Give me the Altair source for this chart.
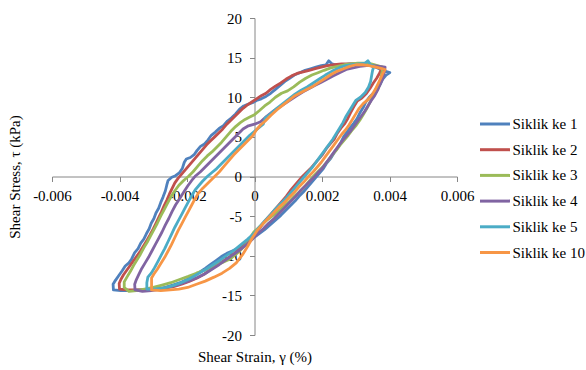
import altair as alt
import pandas as pd

# Series names and colours (Excel 2010 palette)
series_names = ["Siklik ke 1", "Siklik ke 2", "Siklik ke 3", "Siklik ke 4", "Siklik ke 5", "Siklik ke 10"]
series_colors = ["#4F81BD", "#C0504D", "#9BBB59", "#8064A2", "#4BACC6", "#F79646"]

# Each loop: (shear strain in 10^-3 %, shear stress in kPa)
ke1 = [(-4.18,-14.3),(-4.19,-13.6),(-4.12,-13.1),(-4.02,-12.5),(-3.92,-11.9),(-3.83,-11.3),(-3.72,-10.9),(-3.64,-10.4),
       (-3.55,-9.6),(-3.45,-9.1),(-3.37,-8.4),(-3.28,-7.9),(-3.20,-7.2),(-3.12,-6.6),(-3.06,-5.9),(-2.98,-5.3),
       (-2.92,-4.6),(-2.84,-4.0),(-2.78,-3.3),(-2.71,-2.6),(-2.64,-1.8),(-2.60,-1.1),(-2.56,-0.5),(-2.45,-0.1),
       (-2.34,0.1),(-2.22,0.5),(-2.14,1.0),(-2.08,1.8),(-2.02,2.2),(-1.90,2.4),(-1.78,2.8),(-1.70,3.3),(-1.60,3.8),
       (-1.48,4.1),(-1.38,4.6),(-1.28,5.2),(-1.16,5.6),(-1.04,6.1),(-0.92,6.4),(-0.80,7.0),(-0.68,7.4),(-0.56,7.9),
       (-0.44,8.5),(-0.32,8.9),(-0.20,9.1),(-0.06,9.3),(0.06,9.6),(0.20,9.8),(0.34,10.1),(0.48,10.5),(0.62,11.0),
       (0.76,11.5),(0.90,12.0),(1.04,12.4),(1.18,12.8),(1.34,13.1),(1.50,13.4),(1.66,13.6),(1.82,13.8),(1.98,14.0),
       (2.12,14.1),(2.20,14.6),(2.30,14.2),(2.46,14.0),(2.64,14.1),(2.84,14.2),(3.04,14.2),(3.24,14.1),(3.44,14.0),
       (3.60,13.8),(3.74,13.5),(3.86,13.3),(4.01,13.1),
       (3.90,12.8),(3.80,12.3),(3.72,11.6),(3.62,11.0),(3.52,10.5),(3.40,10.0),(3.30,9.4),(3.22,8.7),(3.12,8.0),
       (3.04,7.3),(2.94,6.7),(2.84,6.2),(2.74,5.6),(2.64,5.0),(2.56,4.3),(2.46,3.6),(2.36,3.0),(2.26,2.3),(2.14,1.7),
       (2.04,1.0),(1.92,0.4),(1.80,-0.2),(1.68,-0.8),(1.56,-1.4),(1.44,-2.0),(1.32,-2.5),(1.20,-3.1),(1.06,-3.7),
       (0.92,-4.3),(0.78,-4.9),(0.62,-5.5),(0.46,-6.1),(0.30,-6.7),(0.14,-7.2),(-0.02,-7.7),(-0.18,-8.2),(-0.34,-8.7),
       (-0.50,-9.1),(-0.66,-9.4),(-0.82,-9.7),(-0.98,-10.1),(-1.14,-10.6),(-1.30,-11.1),(-1.46,-11.6),(-1.64,-12.1),
       (-1.82,-12.6),(-2.00,-13.0),(-2.20,-13.4),(-2.42,-13.7),(-2.64,-14.0),(-2.90,-14.2),(-3.16,-14.3),(-3.44,-14.3),
       (-3.72,-14.4),(-3.96,-14.4),(-4.18,-14.3)]

ke2 = [(-4.00,-14.2),(-4.01,-13.5),(-3.96,-13.0),(-3.88,-12.4),(-3.78,-11.8),(-3.68,-11.2),(-3.58,-10.6),(-3.48,-10.0),
       (-3.38,-9.4),(-3.28,-8.7),(-3.18,-8.0),(-3.10,-7.4),(-3.00,-6.6),(-2.92,-5.9),(-2.84,-5.2),(-2.76,-4.5),
       (-2.68,-3.7),(-2.60,-3.0),(-2.52,-2.2),(-2.44,-1.5),(-2.36,-0.8),(-2.26,-0.2),(-2.14,0.4),(-2.02,1.0),
       (-1.90,1.6),(-1.78,2.2),(-1.66,2.8),(-1.54,3.4),(-1.42,4.0),(-1.30,4.5),(-1.18,5.0),(-1.06,5.5),(-0.94,6.0),
       (-0.82,6.6),(-0.70,7.1),(-0.58,7.6),(-0.46,8.1),(-0.34,8.6),(-0.22,9.0),(-0.08,9.4),(0.06,9.8),(0.20,10.2),
       (0.34,10.5),(0.48,11.0),(0.62,11.4),(0.78,11.8),(0.94,12.3),(1.10,12.7),(1.26,13.0),(1.44,13.2),(1.62,13.4),
       (1.80,13.6),(1.98,13.8),(2.16,14.0),(2.36,14.1),(2.58,14.2),(2.80,14.2),(3.02,14.2),(3.24,14.1),(3.44,14.0),
       (3.62,13.8),(3.77,13.6),
       (3.70,13.0),(3.62,12.4),(3.52,11.8),(3.42,11.1),(3.30,10.4),(3.18,9.9),(3.04,9.5),(2.94,8.8),(2.84,8.0),
       (2.76,7.3),(2.66,6.6),(2.56,6.1),(2.46,5.5),(2.36,4.7),(2.26,4.2),(2.14,3.6),(2.02,2.8),(1.90,2.2),(1.78,1.6),
       (1.66,1.0),(1.54,0.5),(1.42,0.0),(1.30,-0.6),(1.18,-1.2),(1.06,-1.8),(0.94,-2.5),(0.80,-3.2),(0.66,-3.9),
       (0.52,-4.6),(0.38,-5.3),(0.24,-6.0),(0.10,-6.8),(-0.04,-7.6),(-0.20,-8.3),(-0.36,-8.9),(-0.54,-9.5),
       (-0.72,-10.1),(-0.90,-10.6),(-1.08,-11.1),(-1.28,-11.7),(-1.48,-12.3),(-1.70,-12.8),(-1.92,-13.2),
       (-2.16,-13.6),(-2.40,-13.9),(-2.66,-14.1),(-2.94,-14.2),(-3.22,-14.3),(-3.50,-14.3),(-3.78,-14.3),(-4.00,-14.2)]

ke3 = [(-3.86,-14.0),(-3.86,-13.3),(-3.78,-12.7),(-3.68,-12.0),(-3.58,-11.2),(-3.48,-10.5),(-3.38,-9.8),(-3.28,-9.0),
       (-3.18,-8.3),(-3.08,-7.5),(-2.98,-6.7),(-2.88,-5.9),(-2.78,-5.0),(-2.68,-4.2),(-2.58,-3.4),(-2.48,-2.6),
       (-2.36,-1.8),(-2.24,-1.1),(-2.10,-0.5),(-1.96,0.0),(-1.82,0.6),(-1.68,1.3),(-1.54,2.0),(-1.40,2.6),
       (-1.26,3.1),(-1.12,3.7),(-0.98,4.3),(-0.84,5.0),(-0.70,5.7),(-0.56,6.3),(-0.42,6.8),(-0.28,7.2),(-0.14,7.5),
       (0.00,7.8),(0.14,8.3),(0.30,8.9),(0.46,9.4),(0.62,10.0),(0.80,10.5),(0.98,10.8),(1.16,11.3),(1.34,11.9),
       (1.52,12.4),(1.70,12.8),(1.88,13.1),(2.06,13.4),(2.26,13.7),(2.46,13.9),(2.66,14.1),(2.86,14.2),(3.06,14.3),
       (3.26,14.3),(3.46,14.2),(3.64,14.0),(3.80,13.8),
       (3.78,13.2),(3.75,12.5),(3.72,11.7),(3.66,11.1),(3.58,10.5),(3.48,9.9),(3.40,9.2),(3.32,8.5),(3.22,7.8),
       (3.12,7.1),(3.02,6.5),(2.90,5.9),(2.78,5.2),(2.66,4.6),(2.54,4.0),(2.42,3.3),(2.30,2.7),(2.18,2.0),(2.04,1.3),
       (1.90,0.7),(1.76,0.1),(1.62,-0.6),(1.48,-1.3),(1.34,-1.9),(1.18,-2.5),(1.02,-3.2),(0.86,-3.8),(0.70,-4.4),
       (0.52,-5.0),(0.34,-5.6),(0.16,-6.3),(-0.02,-7.0),(-0.22,-8.4),(-0.46,-9.5),(-0.72,-10.4),(-0.98,-10.9),
       (-1.22,-11.3),(-1.46,-11.8),(-1.72,-12.2),(-1.96,-12.6),(-2.22,-13.0),(-2.48,-13.4),(-2.74,-13.7),
       (-3.00,-14.0),(-3.26,-14.2),(-3.50,-14.4),(-3.72,-14.5),(-3.86,-14.0)]

ke4 = [(-3.54,-14.3),(-3.55,-13.6),(-3.50,-13.0),(-3.42,-12.3),(-3.34,-11.6),(-3.24,-10.9),(-3.14,-10.2),(-3.04,-9.4),
       (-2.94,-8.6),(-2.84,-7.8),(-2.74,-7.0),(-2.64,-6.1),(-2.54,-5.3),(-2.44,-4.4),(-2.34,-3.6),(-2.22,-2.8),
       (-2.10,-2.0),(-1.98,-1.2),(-1.86,-0.5),(-1.74,0.1),(-1.60,0.6),(-1.46,1.2),(-1.32,1.8),(-1.18,2.4),
       (-1.04,3.0),(-0.90,3.6),(-0.76,4.2),(-0.62,4.8),(-0.48,5.4),(-0.34,6.0),(-0.18,6.4),(0.00,6.6),(0.18,6.9),
       (0.36,7.6),(0.54,8.2),(0.72,8.7),(0.90,9.2),(1.08,9.7),(1.26,10.2),(1.44,10.7),(1.62,11.1),(1.80,11.5),
       (1.98,11.9),(2.16,12.3),(2.34,12.7),(2.52,13.1),(2.72,13.5),(2.92,13.7),(3.12,13.9),(3.32,14.0),(3.52,14.0),
       (3.70,13.9),(3.87,13.8),
       (3.84,13.0),(3.80,12.4),(3.74,11.8),(3.66,11.0),(3.56,10.2),(3.46,9.6),(3.36,8.9),(3.26,8.2),(3.16,7.6),
       (3.06,7.0),(2.96,6.4),(2.84,5.7),(2.72,5.1),(2.60,4.5),(2.48,3.8),(2.36,3.1),(2.24,2.4),(2.12,1.7),(2.00,1.0),
       (1.88,0.5),(1.76,-0.1),(1.62,-0.7),(1.48,-1.3),(1.34,-1.9),(1.20,-2.6),(1.06,-3.2),(0.90,-3.9),(0.74,-4.6),
       (0.58,-5.3),(0.42,-5.9),(0.26,-6.6),(0.10,-7.2),(-0.06,-7.9),(-0.24,-8.6),(-0.44,-9.3),(-0.64,-9.9),
       (-0.84,-10.5),(-1.04,-11.1),(-1.26,-11.7),(-1.48,-12.3),(-1.72,-12.8),(-1.96,-13.2),(-2.22,-13.6),
       (-2.50,-13.9),(-2.78,-14.2),(-3.06,-14.4),(-3.32,-14.5),(-3.54,-14.3)]

ke5 = [(-3.19,-14.2),(-3.19,-13.4),(-3.16,-12.7),(-3.06,-12.2),(-2.96,-11.5),(-2.86,-10.7),(-2.76,-9.9),(-2.66,-9.1),
       (-2.56,-8.2),(-2.46,-7.3),(-2.36,-6.4),(-2.26,-5.6),(-2.16,-4.8),(-2.06,-4.0),(-1.96,-3.2),(-1.86,-2.4),
       (-1.76,-1.7),(-1.66,-1.2),(-1.54,-0.6),(-1.40,0.0),(-1.26,0.5),(-1.12,1.0),(-0.98,1.6),(-0.84,2.2),
       (-0.70,2.8),(-0.56,3.4),(-0.42,4.0),(-0.28,4.6),(-0.14,5.2),(0.00,5.7),(0.14,6.2),(0.26,6.6),(0.32,7.4),
       (0.48,7.9),(0.66,8.6),(0.84,9.2),(1.02,9.8),(1.20,10.4),(1.38,10.9),(1.56,11.3),(1.74,11.8),(1.92,12.3),
       (2.10,12.8),(2.30,13.3),(2.50,13.7),(2.70,14.0),(2.90,14.1),(3.10,14.2),(3.28,14.3),(3.36,14.6),(3.44,14.1),
       (3.54,13.9),
       (3.50,13.4),(3.47,12.7),(3.44,12.0),(3.38,11.3),(3.28,10.6),(3.14,10.0),(3.00,9.6),(2.90,8.9),(2.80,8.2),
       (2.70,7.5),(2.62,6.8),(2.52,6.1),(2.42,5.4),(2.32,4.7),(2.20,4.0),(2.08,3.3),(1.96,2.6),(1.84,1.9),(1.72,1.2),
       (1.60,0.6),(1.48,0.0),(1.36,-0.6),(1.22,-1.3),(1.08,-2.0),(0.94,-2.7),(0.78,-3.4),(0.62,-4.1),(0.46,-4.9),
       (0.30,-5.6),(0.14,-6.4),(-0.02,-7.2),(-0.20,-7.9),(-0.40,-8.6),(-0.60,-9.3),(-0.80,-9.9),(-1.00,-10.5),
       (-1.22,-11.1),(-1.44,-11.7),(-1.68,-12.3),(-1.92,-12.9),(-2.18,-13.4),(-2.44,-13.8),(-2.72,-14.1),
       (-2.98,-14.2),(-3.19,-14.2)]

ke10 = [(-3.05,-14.3),(-3.05,-13.6),(-3.05,-12.8),(-2.98,-12.3),(-2.88,-11.7),(-2.78,-11.0),(-2.66,-10.2),(-2.56,-9.4),
        (-2.46,-8.6),(-2.36,-7.7),(-2.26,-6.8),(-2.16,-6.0),(-2.06,-5.2),(-1.96,-4.4),(-1.86,-3.6),(-1.76,-2.8),
        (-1.66,-2.1),(-1.54,-1.5),(-1.42,-1.0),(-1.30,-0.5),(-1.18,0.0),(-1.04,0.6),(-0.90,1.3),(-0.76,2.0),
        (-0.62,2.7),(-0.48,3.3),(-0.34,3.9),(-0.20,4.5),(-0.06,5.1),(0.06,5.9),(0.18,6.5),(0.32,7.0),(0.48,7.7),
        (0.66,8.4),(0.84,9.0),(1.02,9.6),(1.20,10.2),(1.38,10.6),(1.56,11.0),(1.74,11.4),(1.92,11.9),(2.10,12.4),
        (2.28,12.9),(2.46,13.3),(2.64,13.6),(2.82,13.9),(3.00,14.1),(3.20,14.1),(3.40,14.0),(3.60,13.8),(3.78,13.6),
        (3.87,13.5),
        (3.80,13.0),(3.74,12.4),(3.66,11.7),(3.58,11.0),(3.48,10.3),(3.36,9.7),(3.22,9.2),(3.10,8.6),(3.00,7.9),
        (2.90,7.2),(2.80,6.5),(2.70,5.9),(2.58,5.3),(2.46,4.6),(2.34,3.9),(2.22,3.2),(2.10,2.5),(1.98,1.8),(1.86,1.2),
        (1.74,0.6),(1.60,0.0),(1.46,-0.7),(1.32,-1.3),(1.18,-2.0),(1.04,-2.6),(0.88,-3.3),(0.72,-3.9),(0.56,-4.6),
        (0.40,-5.3),(0.24,-6.0),(0.08,-6.8),(-0.06,-7.7),(-0.20,-8.8),(-0.36,-9.9),(-0.54,-10.9),(-0.74,-11.6),
        (-0.96,-12.2),(-1.20,-12.7),(-1.46,-13.2),(-1.72,-13.6),(-1.98,-14.0),(-2.24,-14.2),(-2.50,-14.3),
        (-2.78,-14.4),(-3.05,-14.3)]

loops = [ke1, ke2, ke3, ke4, ke5, ke10]

x_ticks = [-0.006, -0.004, -0.002, 0, 0.002, 0.004, 0.006]
y_ticks = [-20, -15, -10, -5, 0, 5, 10, 15, 20]

rows = []
for name, pts in zip(series_names, loops):
    for i, (sx, sy) in enumerate(pts):
        rows.append({"series": name, "i": i, "strain": sx / 1000.0, "stress": sy})
df = pd.DataFrame(rows)

W, H = 405, 317
FONT = "Liberation Serif, Times New Roman, serif"
FS = 15

x_axis = alt.Axis(values=x_ticks, title="Shear Strain, γ (%)", offset=-H / 2,
                  labelExpr="'' + datum.value", labelFlush=False, labelOverlap=False,
                  titleX=W / 2, titleY=H / 2 + 21, titleAlign="center", titleBaseline="middle",
                  labelPadding=7, labelFont=FONT, titleFont=FONT)
y_axis = alt.Axis(values=y_ticks, title="Shear Stress, τ (kPa)", offset=-W / 2,
                  labelExpr="'' + datum.value", labelFlush=False, labelOverlap=False,
                  titleX=-(W / 2 + 38), titleY=H / 2, titleAngle=270, titleAlign="center",
                  titleBaseline="middle", labelPadding=8, labelFont=FONT, titleFont=FONT)

chart = alt.Chart(df).mark_line(strokeWidth=2.8, strokeJoin="round", strokeCap="round").encode(
    x=alt.X("strain:Q", scale=alt.Scale(domain=[-0.006, 0.006], nice=False, zero=False), axis=x_axis),
    y=alt.Y("stress:Q", scale=alt.Scale(domain=[-20, 20], nice=False, zero=False), axis=y_axis),
    color=alt.Color("series:N",
                    scale=alt.Scale(domain=series_names, range=series_colors),
                    legend=alt.Legend(title=None, orient="none", legendX=434, legendY=97,
                                      symbolType="M-2,0L2,0", symbolSize=225, symbolStrokeWidth=3,
                                      labelOffset=8.5, rowPadding=8.7, padding=0,
                                      labelFont=FONT, labelFontSize=FS, labelColor="#000000")),
    order=alt.Order("i:Q"),
    detail="series:N",
).properties(
    width=W, height=H,
    autosize=alt.AutoSizeParams(type="none"),
    padding={"left": 52, "top": 18, "right": 129, "bottom": 35},
).configure(
    font=FONT
).configure_view(
    stroke=None
).configure_axis(
    grid=False, domainColor="#868686", tickColor="#868686", tickSize=5,
    labelFont=FONT, labelFontSize=FS, labelColor="#000000",
    titleFont=FONT, titleFontSize=FS, titleFontWeight="normal", titleColor="#000000",
)

chart.save("out.html", embed_options={"renderer": "svg", "actions": False})
